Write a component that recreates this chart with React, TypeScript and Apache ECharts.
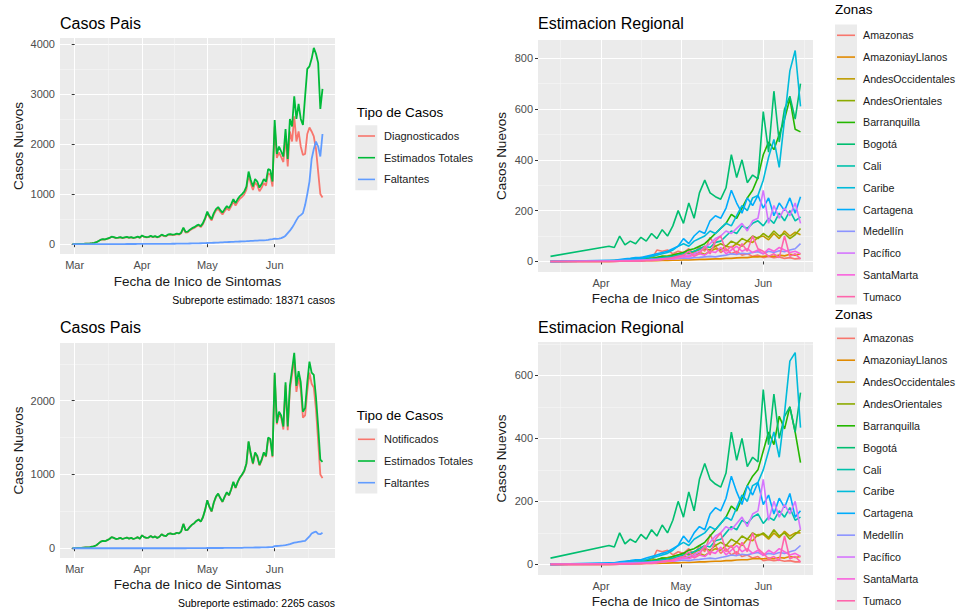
import React, { useEffect, useRef } from "react";
import * as echarts from "echarts";

const FONT = "'Liberation Sans', Arial, Helvetica, sans-serif";

// ---------- X domain (days counted from 1 March 2020) ----------
const COUNTRY_DAYS: number[] = Array.from({ length: 116 }, (_, i) => i - 1);
const REG_DAYS: number[] = [12, 34, 36, 38, 40, 42, 44, 46, 48, 50, 52, 54, 56, 58, 60, 62, 64, 66, 68, 70, 72, 74, 76, 78, 80, 82, 84, 86, 88, 90, 92, 94, 96, 98, 100, 102, 104, 106];

const COUNTRY_MONTH_DAYS = [0, 31, 61, 92];
const COUNTRY_MONTH_LABELS = ["Mar", "Apr", "May", "Jun"];
const REG_MONTH_DAYS = [31, 61, 92];
const REG_MONTH_LABELS = ["Apr", "May", "Jun"];
const MINOR_DAYS = [15.5, 46, 76.5, 107.5];

const Y1_TICKS = [0, 1000, 2000, 3000, 4000];
const Y1_MINOR = [500, 1500, 2500, 3500];
const Y3_TICKS = [0, 1000, 2000];
const Y3_MINOR = [500, 1500, 2500];
const Y2_TICKS = [0, 200, 400, 600, 800];
const Y4_TICKS = [0, 200, 400, 600];
const YR_MINOR = [100, 300, 500, 700];

// ---------- Panel 1: Casos Pais ----------
const DIAGNOSTICADOS_1 = [0, 2, 3, 5, 5, 8, 10, 11, 14, 19, 27,
  39, 63, 88, 98, 93, 108, 122, 147, 137, 122, 127,
  137, 122, 132, 141, 126, 136, 121, 131, 145, 125,
  170, 145, 135, 140, 159, 139, 154, 134, 148, 183,
  163, 157, 187, 192, 181, 186, 200, 190, 219, 318,
  233, 237, 276, 305, 324, 353, 372, 341, 400, 498,
  626, 535, 473, 591, 669, 707, 645, 593, 660, 718,
  676, 754, 852, 770, 848, 906, 944, 992, 1090, 1387,
  1214, 1082, 1230, 1178, 1056, 1124, 1222, 1170, 1415, 1385, 1150,
  2350, 1720, 1830, 1740, 1640, 2150, 1550, 2250, 2050, 2550, 2050, 2250, 1950, 1780, 1800, 2200, 2330, 2250, 2150, 1900, 1450, 1000, 930];
const ESTIMADOS_1 = [0, 2, 3, 5, 5, 8, 10, 12, 15, 20, 28,
  40, 65, 90, 100, 95, 110, 125, 150, 140, 125, 130,
  140, 125, 135, 145, 130, 140, 125, 135, 150, 130,
  175, 150, 140, 145, 165, 145, 160, 140, 155, 190,
  170, 165, 195, 200, 190, 195, 210, 200, 230, 330,
  245, 250, 290, 320, 340, 370, 390, 360, 420, 520,
  650, 560, 500, 620, 700, 740, 680, 630, 700, 760,
  720, 800, 900, 820, 900, 960, 1000, 1050, 1150, 1450,
  1280, 1150, 1300, 1250, 1130, 1200, 1300, 1250, 1500, 1480, 1250,
  2480, 1800, 1950, 1850, 1750, 2300, 1700, 2500, 2350, 2950, 2500, 2800, 2500, 2380, 2950, 3500, 3550, 3700, 3920, 3800, 3620, 2700, 3100];
const FALTANTES_1 = [0, 0, 0, 0, 0, 0, 0, 1, 1, 1, 1,
  1, 2, 2, 2, 2, 2, 3, 3, 3, 3, 3,
  3, 3, 3, 4, 4, 4, 4, 4, 5, 5,
  5, 5, 5, 5, 6, 6, 6, 6, 7, 7,
  7, 8, 8, 8, 9, 9, 10, 10, 11, 12,
  12, 13, 14, 15, 16, 17, 18, 19, 20, 22,
  24, 25, 27, 29, 31, 33, 35, 37, 40, 42,
  44, 46, 48, 50, 52, 54, 56, 58, 60, 63,
  66, 68, 70, 72, 74, 76, 78, 80, 85, 95, 100,
  110, 105, 110, 120, 140, 170, 220, 270, 330, 400, 480, 550, 580, 620, 780, 1000, 1250, 1700, 1900, 2050, 1950, 1750, 2200];

// ---------- Panel 3: Casos Pais (notificados) ----------
const NOTIFICADOS_3 = [0, 2, 3, 5, 5, 8, 10, 12, 15, 20, 28,
  40, 65, 90, 100, 95, 110, 125, 150, 140, 125, 130,
  140, 125, 135, 145, 130, 140, 125, 135, 150, 130,
  175, 150, 140, 145, 165, 145, 160, 140, 155, 190,
  170, 165, 195, 200, 190, 195, 210, 200, 230, 330,
  245, 250, 290, 320, 340, 370, 390, 360, 420, 518,
  647, 557, 497, 617, 697, 737, 677, 627, 696, 756,
  716, 795, 895, 815, 895, 954, 994, 1043, 1142, 1441,
  1271, 1141, 1290, 1240, 1120, 1189, 1289, 1238, 1487, 1466, 1235,
  2350, 1680, 1820, 1770, 1610, 2210, 1600, 2150, 2350, 2570, 2120, 2310, 2150, 1770, 1800, 2130, 2380, 2230, 2180, 1880, 1450, 1000, 950];
const ESTIMADOS_3 = [0, 2, 3, 5, 5, 8, 10, 12, 15, 20, 28,
  40, 65, 90, 100, 95, 110, 125, 150, 140, 125, 130,
  140, 125, 135, 145, 130, 140, 125, 135, 150, 130,
  175, 150, 140, 145, 165, 145, 160, 140, 155, 190,
  170, 165, 195, 200, 190, 195, 210, 200, 230, 330,
  245, 250, 290, 320, 340, 370, 390, 360, 420, 520,
  650, 560, 500, 620, 700, 740, 680, 630, 700, 760,
  720, 800, 900, 820, 900, 960, 1000, 1050, 1150, 1450,
  1280, 1150, 1300, 1250, 1130, 1200, 1300, 1250, 1500, 1480, 1250,
  2380, 1700, 1850, 1800, 1650, 2250, 1650, 2200, 2420, 2650, 2200, 2400, 2250, 1850, 1900, 2250, 2530, 2380, 2350, 2050, 1650, 1200, 1170];
const FALTANTES_3 = [0, 0, 0, 0, 0, 0, 0, 0, 0, 0, 0,
  0, 0, 0, 0, 0, 0, 0, 0, 0, 0, 0,
  0, 0, 0, 0, 0, 0, 0, 0, 0, 0,
  0, 0, 0, 0, 0, 0, 0, 0, 0, 0,
  0, 0, 0, 0, 0, 0, 0, 0, 0, 0,
  0, 1, 1, 1, 1, 1, 1, 1, 1, 2,
  3, 3, 3, 3, 3, 3, 3, 3, 4, 4,
  4, 5, 5, 5, 5, 6, 6, 7, 8, 9,
  9, 9, 10, 10, 10, 11, 11, 12, 13, 14, 15,
  28, 30, 32, 35, 38, 42, 48, 55, 65, 75, 80, 85, 90, 95, 100, 130, 160, 200, 215, 225, 195, 190, 210];

const CASE_COLORS = ["#F8766D", "#00BA38", "#619CFF"];
const CASES_1 = ["Diagnosticados", "Estimados Totales", "Faltantes"];
const CASES_3 = ["Notificados", "Estimados Totales", "Faltantes"];

// ---------- Regional panels ----------
const ZONES = ["Amazonas", "AmazoniayLlanos", "AndesOccidentales", "AndesOrientales", "Barranquilla", "Bogotá", "Cali", "Caribe", "Cartagena", "Medellín", "Pacífico", "SantaMarta", "Tumaco"];
const ZONE_COLORS = ["#F8766D", "#E18A00", "#BE9C00", "#8CAB00", "#24B700", "#00BE70", "#00C1AB", "#00BBDA", "#00ACFC", "#8B93FF", "#D575FE", "#F962DD", "#FF65AC"];

// top regional panel
const AMAZONAS_A = [0, 0, 0, 1, 1, 2, 2, 3, 5, 8, 45, 40, 45, 30, 40, 35, 50, 30, 60, 40, 95, 60, 35, 50, 30, 40, 25, 30, 20, 25, 15, 20, 15, 18, 12, 15, 10, 12];
const AMAZLLANOS_A = [0, 0, 1, 1, 1, 2, 2, 2, 3, 3, 3, 4, 4, 5, 5, 6, 6, 7, 8, 8, 9, 10, 10, 12, 12, 14, 15, 15, 18, 18, 20, 22, 20, 25, 22, 28, 25, 30];
const ANDESOCC_A = [0, 2, 3, 5, 4, 8, 6, 10, 8, 12, 10, 15, 12, 18, 20, 25, 22, 30, 35, 28, 40, 50, 45, 60, 55, 70, 60, 80, 75, 95, 100, 85, 110, 90, 120, 100, 115, 105];
const ANDESOR_A = [0, 3, 4, 5, 8, 10, 12, 15, 12, 18, 15, 20, 22, 25, 30, 35, 30, 40, 45, 50, 45, 60, 70, 60, 80, 70, 90, 80, 100, 90, 110, 95, 120, 100, 110, 90, 105, 130];
const BARRANQUILLA_A = [0, 2, 3, 3, 5, 6, 8, 10, 12, 10, 15, 20, 18, 25, 30, 35, 45, 50, 60, 70, 90, 110, 130, 150, 185, 170, 210, 250, 280, 330, 420, 470, 440, 500, 560, 640, 520, 510];
const BOGOTA_A = [20, 60, 55, 100, 65, 80, 70, 95, 80, 110, 90, 125, 100, 140, 200, 150, 230, 170, 270, 320, 270, 255, 245, 290, 420, 330, 400, 310, 340, 325, 590, 430, 670, 470, 600, 650, 560, 700];
const CALI_A = [0, 2, 2, 3, 4, 5, 6, 8, 8, 10, 12, 15, 18, 20, 25, 30, 35, 40, 50, 60, 55, 75, 80, 100, 120, 110, 140, 130, 150, 160, 140, 170, 150, 190, 160, 200, 160, 175];
const CARIBE_A = [0, 3, 4, 5, 6, 8, 10, 12, 15, 20, 25, 30, 35, 45, 60, 70, 60, 80, 90, 100, 120, 110, 130, 150, 140, 180, 220, 200, 250, 260, 320, 410, 480, 370, 560, 750, 830, 610];
const CARTAGENA_A = [0, 5, 5, 8, 10, 12, 15, 15, 20, 25, 30, 35, 40, 50, 60, 90, 70, 100, 120, 110, 160, 180, 170, 210, 280, 230, 190, 250, 220, 260, 210, 250, 180, 230, 200, 250, 190, 255];
const MEDELLIN_A = [0, 2, 3, 4, 5, 5, 6, 6, 7, 8, 8, 9, 10, 10, 12, 14, 12, 15, 16, 18, 20, 18, 22, 25, 30, 28, 32, 30, 35, 38, 30, 40, 35, 42, 38, 45, 50, 70];
const PACIFICO_A = [0, 1, 1, 2, 2, 3, 3, 4, 5, 5, 6, 8, 10, 12, 15, 20, 25, 30, 40, 55, 70, 90, 100, 120, 110, 130, 150, 120, 160, 170, 280, 150, 220, 170, 210, 180, 230, 150];
const SANTAMARTA_A = [0, 1, 1, 2, 2, 3, 3, 4, 5, 6, 8, 10, 12, 10, 15, 20, 18, 25, 30, 25, 40, 35, 55, 30, 45, 60, 40, 50, 35, 45, 30, 50, 40, 55, 45, 35, 40, 30];
const TUMACO_A = [0, 0, 0, 1, 1, 1, 2, 2, 3, 3, 5, 8, 10, 15, 20, 25, 40, 20, 30, 60, 30, 80, 100, 40, 60, 30, 70, 40, 100, 50, 40, 20, 30, 15, 100, 20, 30, 10];

// bottom regional panel
const AMAZONAS_B = [0, 0, 0, 1, 1, 2, 2, 3, 5, 8, 45, 40, 45, 30, 40, 35, 50, 30, 60, 40, 95, 60, 35, 50, 30, 40, 25, 30, 20, 25, 12, 15, 12, 14, 10, 12, 8, 8];
const AMAZLLANOS_B = [0, 0, 1, 1, 1, 2, 2, 2, 3, 3, 3, 4, 4, 5, 5, 6, 6, 7, 8, 8, 9, 10, 10, 12, 12, 14, 15, 15, 18, 18, 18, 20, 18, 22, 20, 25, 22, 25];
const ANDESOCC_B = [0, 2, 3, 5, 4, 8, 6, 10, 8, 12, 10, 15, 12, 18, 20, 25, 22, 30, 35, 28, 40, 50, 45, 60, 55, 70, 60, 80, 75, 95, 95, 80, 100, 85, 105, 90, 100, 100];
const ANDESOR_B = [0, 3, 4, 5, 8, 10, 12, 15, 12, 18, 15, 20, 22, 25, 30, 35, 30, 40, 45, 50, 45, 60, 70, 60, 80, 70, 90, 80, 100, 90, 100, 85, 110, 90, 100, 80, 95, 110];
const BARRANQUILLA_B = [0, 2, 3, 3, 5, 6, 8, 10, 12, 10, 15, 20, 18, 25, 30, 35, 45, 50, 60, 70, 90, 110, 130, 150, 185, 170, 210, 250, 280, 300, 360, 420, 380, 470, 430, 500, 420, 323];
const BOGOTA_B = [20, 60, 55, 100, 65, 80, 70, 95, 80, 110, 90, 125, 100, 140, 200, 150, 230, 170, 270, 320, 270, 255, 245, 290, 420, 330, 400, 310, 340, 325, 555, 380, 540, 400, 470, 500, 420, 545];
const CALI_B = [0, 2, 2, 3, 4, 5, 6, 8, 8, 10, 12, 15, 18, 20, 25, 30, 35, 40, 50, 60, 55, 75, 80, 100, 120, 110, 140, 130, 150, 160, 130, 150, 140, 170, 150, 180, 140, 150];
const CARIBE_B = [0, 3, 4, 5, 6, 8, 10, 12, 15, 20, 25, 30, 35, 45, 60, 70, 60, 80, 90, 100, 120, 110, 130, 150, 140, 180, 220, 200, 250, 260, 300, 360, 420, 340, 480, 645, 672, 434];
const CARTAGENA_B = [0, 5, 5, 8, 10, 12, 15, 15, 20, 25, 30, 35, 40, 50, 60, 90, 70, 100, 120, 110, 160, 180, 170, 210, 280, 230, 190, 250, 220, 260, 190, 220, 160, 210, 180, 225, 150, 170];
const MEDELLIN_B = [0, 2, 3, 4, 5, 5, 6, 6, 7, 8, 8, 9, 10, 10, 12, 14, 12, 15, 16, 18, 20, 18, 22, 25, 30, 28, 32, 30, 35, 38, 30, 35, 32, 38, 35, 40, 45, 60];
const PACIFICO_B = [0, 1, 1, 2, 2, 3, 3, 4, 5, 5, 6, 8, 10, 12, 15, 20, 25, 30, 40, 55, 70, 90, 100, 120, 110, 130, 150, 120, 160, 170, 270, 140, 200, 150, 190, 160, 200, 110];
const SANTAMARTA_B = [0, 1, 1, 2, 2, 3, 3, 4, 5, 6, 8, 10, 12, 10, 15, 20, 18, 25, 30, 25, 40, 35, 55, 30, 45, 60, 40, 50, 35, 45, 28, 45, 35, 50, 40, 30, 35, 25];
const TUMACO_B = [0, 0, 0, 1, 1, 1, 2, 2, 3, 3, 5, 8, 10, 15, 20, 25, 40, 20, 30, 60, 30, 80, 100, 40, 60, 30, 70, 40, 100, 50, 35, 18, 25, 12, 90, 18, 25, 8];

const REGION_A = [AMAZONAS_A, AMAZLLANOS_A, ANDESOCC_A, ANDESOR_A, BARRANQUILLA_A, BOGOTA_A, CALI_A, CARIBE_A, CARTAGENA_A, MEDELLIN_A, PACIFICO_A, SANTAMARTA_A, TUMACO_A];
const REGION_B = [AMAZONAS_B, AMAZLLANOS_B, ANDESOCC_B, ANDESOR_B, BARRANQUILLA_B, BOGOTA_B, CALI_B, CARIBE_B, CARTAGENA_B, MEDELLIN_B, PACIFICO_B, SANTAMARTA_B, TUMACO_B];

// ---------- helpers ----------
function expand(values: number[]): [number, number] {
  let lo = Infinity, hi = -Infinity;
  values.forEach((v) => { if (v < lo) lo = v; if (v > hi) hi = v; });
  const r = hi - lo;
  return [lo - 0.05 * r, hi + 0.05 * r];
}

const AXIS_LABEL = { color: "#4D4D4D", fontSize: 11, fontFamily: FONT };
const AXIS_NAME = { color: "#1A1A1A", fontSize: 13.5, fontFamily: FONT };

type Panel = {
  grid: { left: number; top: number; width: number; height: number };
  xExt: [number, number]; xMajor: number[]; xLabels: string[];
  yExt: [number, number]; yMajor: number[]; yMinor: number[];
  yNameGap: number; xNameGap: number;
};

function buildOption() {
  const c1 = [DIAGNOSTICADOS_1, ESTIMADOS_1, FALTANTES_1];
  const c3 = [NOTIFICADOS_3, ESTIMADOS_3, FALTANTES_3];
  const panels: Panel[] = [
    { grid: { left: 60, top: 38, width: 275, height: 216 }, xExt: expand(COUNTRY_DAYS), xMajor: COUNTRY_MONTH_DAYS, xLabels: COUNTRY_MONTH_LABELS, yExt: expand(c1.flat()), yMajor: Y1_TICKS, yMinor: Y1_MINOR, yNameGap: 35, xNameGap: 20 },
    { grid: { left: 538, top: 40, width: 275, height: 232 }, xExt: expand(REG_DAYS), xMajor: REG_MONTH_DAYS, xLabels: REG_MONTH_LABELS, yExt: expand(REGION_A.flat()), yMajor: Y2_TICKS, yMinor: YR_MINOR, yNameGap: 29.5, xNameGap: 19.5 },
    { grid: { left: 60, top: 343, width: 275, height: 215 }, xExt: expand(COUNTRY_DAYS), xMajor: COUNTRY_MONTH_DAYS, xLabels: COUNTRY_MONTH_LABELS, yExt: expand(c3.flat()), yMajor: Y3_TICKS, yMinor: Y3_MINOR, yNameGap: 35, xNameGap: 19.5 },
    { grid: { left: 538, top: 342, width: 275, height: 233 }, xExt: expand(REG_DAYS), xMajor: REG_MONTH_DAYS, xLabels: REG_MONTH_LABELS, yExt: expand(REGION_B.flat()), yMajor: Y4_TICKS, yMinor: YR_MINOR, yNameGap: 29.5, xNameGap: 19 },
  ];

  const grid: any[] = [];
  const xAxis: any[] = [];
  const yAxis: any[] = [];
  panels.forEach((p, i) => {
    grid.push({ ...p.grid, show: true, backgroundColor: "#EBEBEB", borderWidth: 0, containLabel: false, outerBoundsMode: "none" });
    xAxis.push({
      type: "value", gridIndex: i, min: p.xExt[0], max: p.xExt[1], position: "bottom",
      axisLine: { show: false },
      axisTick: { show: true, length: 3, lineStyle: { color: "#333333", width: 1 }, customValues: p.xMajor },
      axisLabel: { ...AXIS_LABEL, margin: 5, customValues: p.xMajor, formatter: (v: number) => { const k = p.xMajor.indexOf(v); return k >= 0 ? p.xLabels[k] : ""; } },
      splitLine: { show: true, lineStyle: { color: "#FFFFFF", width: 1.1 } },
      name: "Fecha de Inico de Sintomas", nameLocation: "middle", nameGap: p.xNameGap, nameTextStyle: AXIS_NAME,
    });
    xAxis.push({
      type: "value", gridIndex: i, min: p.xExt[0], max: p.xExt[1], position: "top",
      axisLine: { show: false }, axisTick: { show: false, customValues: MINOR_DAYS },
      axisLabel: { show: false, customValues: MINOR_DAYS },
      splitLine: { show: true, lineStyle: { color: "#F7F7F7", width: 0.6 } },
    });
    yAxis.push({
      type: "value", gridIndex: i, min: p.yExt[0], max: p.yExt[1], position: "left",
      axisLine: { show: false },
      axisTick: { show: true, length: 3, lineStyle: { color: "#333333", width: 1 }, customValues: p.yMajor },
      axisLabel: { ...AXIS_LABEL, margin: 5, customValues: p.yMajor, formatter: (v: number) => String(v) },
      splitLine: { show: true, lineStyle: { color: "#FFFFFF", width: 1.1 } },
      name: "Casos Nuevos", nameLocation: "middle", nameGap: p.yNameGap, nameTextStyle: AXIS_NAME,
    });
    yAxis.push({
      type: "value", gridIndex: i, min: p.yExt[0], max: p.yExt[1], position: "right",
      axisLine: { show: false }, axisTick: { show: false, customValues: p.yMinor },
      axisLabel: { show: false, customValues: p.yMinor },
      splitLine: { show: true, lineStyle: { color: "#F7F7F7", width: 0.6 } },
    });
  });

  const series: any[] = [];
  const lineSeries = (name: string, color: string, days: number[], vals: number[], panel: number, width: number) => ({
    type: "line", name, xAxisIndex: panel * 2, yAxisIndex: panel * 2,
    data: days.map((d, k) => [d, vals[k]]),
    showSymbol: false, symbol: "none", silent: true, z: 2,
    color, itemStyle: { color }, lineStyle: { color, width },
  });
  c1.forEach((vals, k) => series.push(lineSeries(CASES_1[k], CASE_COLORS[k], COUNTRY_DAYS, vals, 0, 1.8)));
  REGION_A.forEach((vals, k) => series.push(lineSeries(ZONES[k], ZONE_COLORS[k], REG_DAYS, vals, 1, 1.6)));
  c3.forEach((vals, k) => series.push(lineSeries(CASES_3[k], CASE_COLORS[k], COUNTRY_DAYS, vals, 2, 1.8)));
  REGION_B.forEach((vals, k) => series.push(lineSeries(ZONES[k], ZONE_COLORS[k], REG_DAYS, vals, 3, 1.6)));

  const legendBase = (names: string[], left: number, top: number, itemWidth: number, lh: number, fontSize: number, padLeft: number) => ({
    show: true, type: "plain", orient: "vertical", left, top, height: 400, padding: 0, itemGap: 0, itemWidth, itemHeight: 1.6,
    icon: "rect", selectedMode: false, data: names,
    itemStyle: { borderWidth: 0 },
    textStyle: { fontSize, color: "#1A1A1A", fontFamily: FONT, lineHeight: lh, padding: [0, 0, 0, padLeft] },
  });
  const legend = [
    legendBase(CASES_1, 358, 125.15, 17, 21.7, 11, 4),
    legendBase(ZONES, 837, 24.4, 18, 21.78, 10.7, 3),
    legendBase(CASES_3, 358, 428.45, 17, 21.7, 11, 4),
    legendBase(ZONES, 837, 327.4, 18, 21.87, 10.7, 3),
  ];

  const txt = (text: string, x: number, y: number, fontSize: number, align = "left", color = "#000000") => ({
    type: "text", x, y, silent: true,
    style: { text, fontSize, fontFamily: FONT, fill: color, align, verticalAlign: "middle" },
  });
  const keyBg = (x: number, y: number, h: number) => ({ type: "rect", shape: { x, y, width: 22, height: h }, style: { fill: "#EBEBEB" }, silent: true, z: 0 });

  const graphic = [
    keyBg(355.3, 125.15, 65.1),
    keyBg(355.3, 428.45, 65.1),
    keyBg(835, 24.4, 280),
    keyBg(835, 327.4, 282.6),
    txt("Casos Pais", 60, 23, 16),
    txt("Estimacion Regional", 538, 23, 16),
    txt("Casos Pais", 60, 327, 16),
    txt("Estimacion Regional", 538, 327, 16),
    txt("Subreporte estimado: 18371 casos", 335, 300, 10.5, "right"),
    txt("Subreporte estimado: 2265 casos", 335, 603, 10.5, "right"),
    txt("Tipo de Casos", 356.7, 112, 13.5),
    txt("Tipo de Casos", 356.7, 415, 13.5),
    txt("Zonas", 835, 9, 13.5),
    txt("Zonas", 835, 314.3, 13.5),
  ];

  return { animation: false, backgroundColor: "#FFFFFF", grid, xAxis, yAxis, series, legend, graphic };
}

export default function App() {
  const ref = useRef<HTMLDivElement>(null);
  useEffect(() => {
    if (!ref.current) return;
    const chart = echarts.init(ref.current, undefined, { renderer: "svg" });
    chart.setOption(buildOption() as any);
    return () => chart.dispose();
  }, []);
  return <div ref={ref} style={{ position: "absolute", left: 0, top: 0, width: 961, height: 610, background: "#FFFFFF" }} />;
}
